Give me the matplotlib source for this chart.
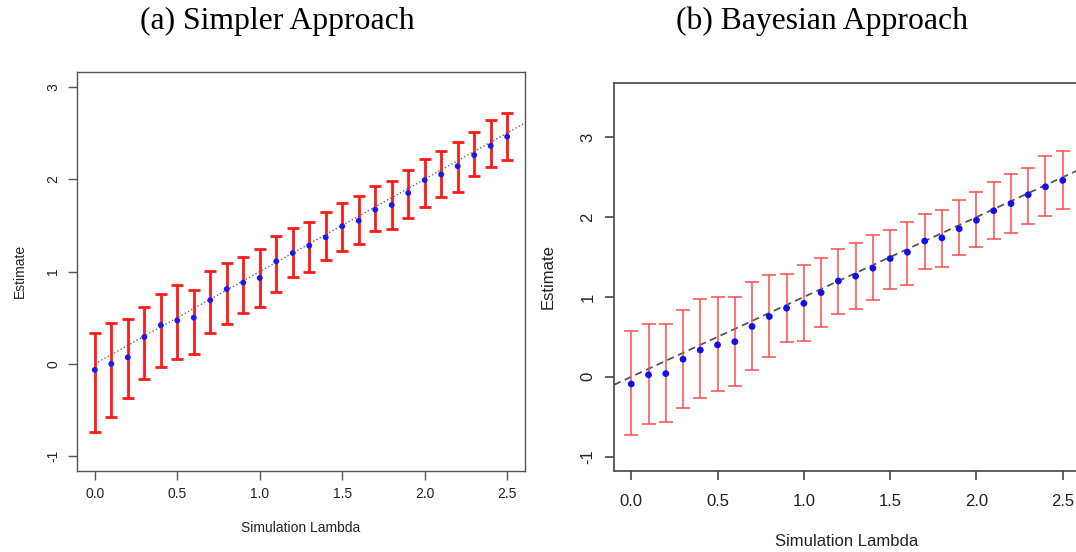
import matplotlib
matplotlib.use("Agg")
import matplotlib.pyplot as plt
import numpy as np

# simulation lambdas (x axis) shared by both panels
lam = np.round(np.arange(0, 2.51, 0.1), 1)

# (a) simpler approach: estimate and interval ends
est_a = [-0.065, 0.00, 0.07, 0.29, 0.42, 0.47, 0.50, 0.69, 0.81, 0.88, 0.93, 1.11, 1.20,
         1.28, 1.37, 1.49, 1.55, 1.67, 1.72, 1.85, 1.99, 2.05, 2.14, 2.26, 2.36, 2.46]
up_a = [0.33, 0.44, 0.49, 0.62, 0.755, 0.85, 0.80, 1.01, 1.09, 1.16, 1.24, 1.38, 1.47,
        1.54, 1.64, 1.74, 1.82, 1.93, 1.98, 2.10, 2.22, 2.31, 2.40, 2.51, 2.64, 2.72]
lo_a = [-0.74, -0.57, -0.37, -0.16, -0.036, 0.05, 0.11, 0.33, 0.43, 0.55, 0.62, 0.78, 0.94,
        1.00, 1.12, 1.22, 1.30, 1.44, 1.46, 1.58, 1.70, 1.81, 1.86, 2.03, 2.13, 2.21]

# (b) bayesian approach
est_b = [-0.09, 0.025, 0.04, 0.22, 0.335, 0.40, 0.44, 0.63, 0.755, 0.86, 0.92, 1.055, 1.20,
         1.26, 1.36, 1.48, 1.56, 1.70, 1.74, 1.855, 1.96, 2.08, 2.17, 2.28, 2.38, 2.46]
up_b = [0.57, 0.66, 0.66, 0.84, 0.97, 1.00, 1.00, 1.19, 1.27, 1.285, 1.40, 1.49, 1.60,
        1.675, 1.77, 1.84, 1.94, 2.035, 2.085, 2.21, 2.32, 2.44, 2.545, 2.62, 2.76, 2.83]
lo_b = [-0.73, -0.595, -0.56, -0.39, -0.27, -0.18, -0.11, 0.09, 0.25, 0.43, 0.45, 0.62, 0.79,
        0.85, 0.96, 1.10, 1.155, 1.35, 1.38, 1.52, 1.62, 1.73, 1.80, 1.92, 2.01, 2.105]

xticks = [0.0, 0.5, 1.0, 1.5, 2.0, 2.5]
yticks = [-1, 0, 1, 2, 3]
titles = ["(a) Simpler Approach", "(b) Bayesian Approach"]

plt.rcParams['font.family'] = ['Liberation Sans', 'DejaVu Sans']

W, H = 1076, 552
fig = plt.figure(figsize=(W / 100, H / 100), dpi=100)


def px_axes(x0, x1, ytop, ybot):
    return fig.add_axes([x0 / W, (H - ybot) / H, (x1 - x0) / W, (ybot - ytop) / H])


def r_style(ax, fs, col, lw, xpad, ypad):
    for s in ax.spines.values():
        s.set_color(col)
        s.set_linewidth(lw)
    ax.set_xticks(xticks)
    ax.set_xticklabels([f"{t:.1f}" for t in xticks])
    ax.set_yticks(yticks)
    ax.set_yticklabels([str(t) for t in yticks], rotation=90, va='center')
    ax.tick_params(axis='both', direction='out', length=6.5, width=lw, color=col,
                   labelsize=fs, labelcolor='#222222')
    ax.tick_params(axis='x', pad=xpad)
    ax.tick_params(axis='y', pad=ypad)


lam_arr = np.array(lam)

# ---- panel (a)
ax1 = px_axes(77, 525, 72, 471)
ea = np.array(est_a)
ax1.plot([0, 2.6], [0, 2.6], ls=':', color='#666666', lw=1.0, zorder=1)
ax1.errorbar(lam_arr, ea, yerr=[ea - np.array(lo_a), np.array(up_a) - ea], fmt='none',
             ecolor='#ff1a1a', elinewidth=2.0, capsize=4.2, capthick=2.0, zorder=2)
ax1.scatter(lam_arr, ea, s=18, color='#1a1aee', edgecolors='none', zorder=3)
ax1.set_xlim(-0.108, 2.608)
ax1.set_ylim(-1.16, 3.16)
r_style(ax1, 10, '#555555', 1.0, 5, 5.5)

# ---- panel (b)
ax2 = px_axes(614, 1080, 83, 471)
eb = np.array(est_b)
ax2.axline((0, 0), slope=1, ls=(0, (4, 2.5)), color='#555555', lw=1.3, zorder=1)
ax2.errorbar(lam_arr, eb, yerr=[eb - np.array(lo_b), np.array(up_b) - eb], fmt='none',
             ecolor='#ff4a4a', elinewidth=1.1, capsize=5, capthick=1.1, zorder=2)
ax2.scatter(lam_arr, eb, s=24, color='#1010ee', edgecolors='none', zorder=3)
ax2.set_xlim(-0.1, 2.6)
ax2.set_ylim(-1.18, 3.68)
r_style(ax2, 12, '#444444', 1.2, 10, 7)

# axis labels
fig.text(301 / W, 1 - 528 / H, "Simulation Lambda", ha='center', va='center', fontsize=10, color='#222222')
fig.text(20 / W, 1 - 271 / H, "Estimate", ha='center', va='center', rotation=90, fontsize=10, color='#222222')
fig.text(847 / W, 1 - 542 / H, "Simulation Lambda", ha='center', va='center', fontsize=12, color='#222222')
fig.text(548 / W, 1 - 277 / H, "Estimate", ha='center', va='center', rotation=90, fontsize=12, color='#222222')

# panel titles
fig.text(277 / W, 1 - 21 / H, titles[0], ha='center', va='center', fontsize=22.8,
         family=['Liberation Serif', 'DejaVu Serif'])
fig.text(822 / W, 1 - 21 / H, titles[1], ha='center', va='center', fontsize=22.8,
         family=['Liberation Serif', 'DejaVu Serif'])

fig.savefig("out.png", dpi=100)
